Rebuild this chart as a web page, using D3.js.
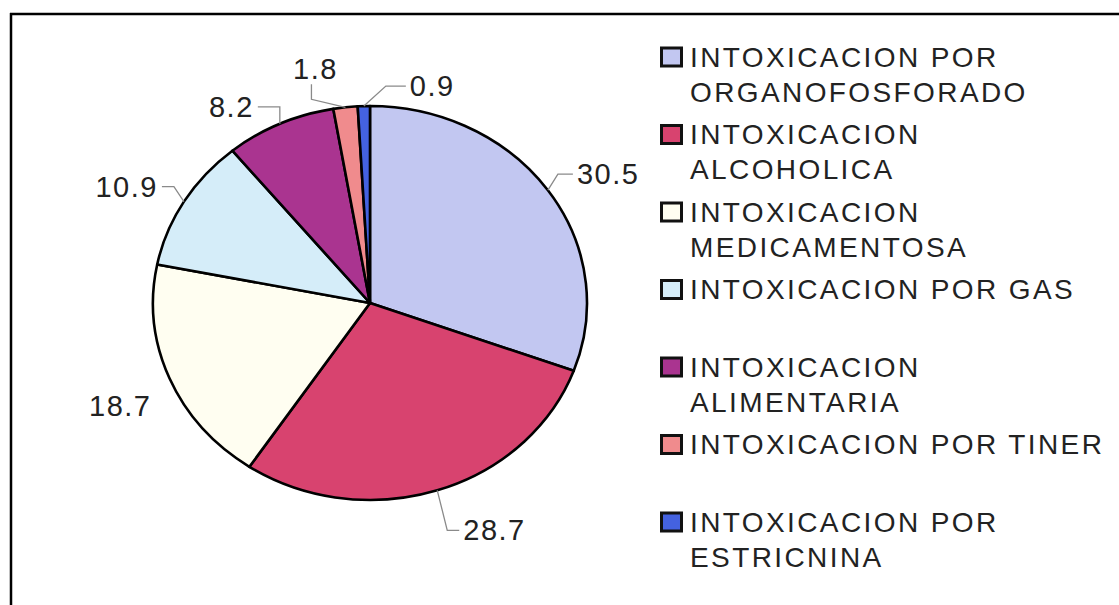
<!DOCTYPE html>
<meta charset="utf-8">
<style>
body { margin: 0; background: #fff; }
text { font-family: "Liberation Sans", Arial, sans-serif; fill: #222; }
</style>
<svg width="1119" height="605"></svg>
<script src="https://d3js.org/d3.v7.min.js"></script>
<script>

// porcentajes por tipo de intoxicacion
var categories = [
  "INTOXICACION POR ORGANOFOSFORADO",
  "INTOXICACION ALCOHOLICA",
  "INTOXICACION MEDICAMENTOSA",
  "INTOXICACION POR GAS",
  "INTOXICACION ALIMENTARIA",
  "INTOXICACION POR TINER",
  "INTOXICACION POR ESTRICNINA"
];
var values = [30.5, 28.7, 18.7, 10.9, 8.2, 1.8, 0.9];
var valueLabels = ["30.5", "28.7", "18.7", "10.9", "8.2", "1.8", "0.9"];
// legend text as it wraps in the original
var legendLines = [
  ["INTOXICACION POR", "ORGANOFOSFORADO"],
  ["INTOXICACION", "ALCOHOLICA"],
  ["INTOXICACION", "MEDICAMENTOSA"],
  ["INTOXICACION POR GAS"],
  ["INTOXICACION", "ALIMENTARIA"],
  ["INTOXICACION POR TINER"],
  ["INTOXICACION POR", "ESTRICNINA"]
];

var colors = ["#c2c7f1", "#d8436f", "#fffef1", "#d5edf9", "#aa3490", "#f08b8d", "#4462e0"];

var svg = d3.select("svg");
var cx = 370, cy = 303, rx = 217, ry = 197;

// frame (only top and left edges show)
svg.append("line").attr("x1", 10).attr("y1", 14).attr("x2", 1119).attr("y2", 14)
  .attr("stroke", "#000").attr("stroke-width", 2.5);
svg.append("line").attr("x1", 11).attr("y1", 13).attr("x2", 11).attr("y2", 605)
  .attr("stroke", "#000").attr("stroke-width", 2.5);

var pie = d3.pie().sort(null).value(function(d) { return d; });
var arcs = pie(values);
var arc = d3.arc().innerRadius(0).outerRadius(ry);

var color = d3.scaleOrdinal().domain(d3.range(values.length)).range(colors);

var g = svg.append("g")
  .attr("transform", "translate(" + cx + "," + cy + ") scale(" + (rx / ry) + ",1)");

g.selectAll("path")
  .data(arcs)
  .enter().append("path")
    .attr("d", arc)
    .attr("fill", function(d, i) { return color(i); })
    .attr("stroke", "#000")
    .attr("stroke-width", 2.6)
    .attr("stroke-linejoin", "round")
    .attr("vector-effect", "non-scaling-stroke");

// point on the ellipse edge at the middle of each slice
function edge(d) {
  var a = (d.startAngle + d.endAngle) / 2;
  return [cx + rx * Math.sin(a), cy - ry * Math.cos(a)];
}

// label placement relative to slice edge: dx, dy, anchor, leader run
var labelPos = [
  {dx: 29, dy: -16, anchor: "start", run: 15},
  {dx: 26, dy: 40, anchor: "start", run: 12},
  {dx: -18, dy: 28, anchor: "end", run: 0},
  {dx: -26, dy: -15, anchor: "end", run: 12},
  {dx: -26, dy: -17, anchor: "end", run: 22},
  {dx: -30, dy: -38, anchor: "middle", run: 0},
  {dx: 46, dy: -20, anchor: "start", run: 20}
];

var labels = svg.append("g");

arcs.forEach(function(d, i) {
  var e = edge(d), p = labelPos[i];
  var tx = e[0] + p.dx, ty = e[1] + p.dy;
  var pts = null;
  if (p.anchor === "middle") {
    pts = [e, [tx - 4, ty + 30], [tx - 4, ty + 15]];
  } else if (p.run > 0) {
    var dir = p.anchor === "start" ? 1 : -1;
    pts = [e, [tx - dir * (4 + p.run), ty], [tx - dir * 4, ty]];
  }
  if (pts) {
    labels.append("path")
      .attr("d", d3.line()(pts))
      .attr("fill", "none")
      .attr("stroke", "#8a8a8a")
      .attr("stroke-width", 1.3);
  }
  labels.append("text")
    .attr("x", tx)
    .attr("y", ty)
    .attr("dy", "0.35em")
    .attr("text-anchor", p.anchor)
    .style("font-size", "29px")
    .style("letter-spacing", "1.5px")
    .text(valueLabels[i]);
});

// legend
var legend = svg.append("g").attr("transform", "translate(660,57)");
var item = legend.selectAll("g")
  .data(categories)
  .enter().append("g")
    .attr("transform", function(d, i) { return "translate(0," + (i * 77.5) + ")"; });

item.append("rect")
  .attr("x", 1.5).attr("y", -9)
  .attr("width", 20).attr("height", 18)
  .attr("fill", function(d, i) { return color(i); })
  .attr("stroke", "#111")
  .attr("stroke-width", 3);

item.each(function(d, i) {
  var t = d3.select(this).append("text")
    .attr("x", 30)
    .attr("y", 0)
    .style("font-size", "28px")
    .style("letter-spacing", "2.4px");
  legendLines[i].forEach(function(line, j) {
    t.append("tspan")
      .attr("x", 30)
      .attr("y", j * 35)
      .attr("dy", "0.35em")
      .text(line);
  });
});

</script>
